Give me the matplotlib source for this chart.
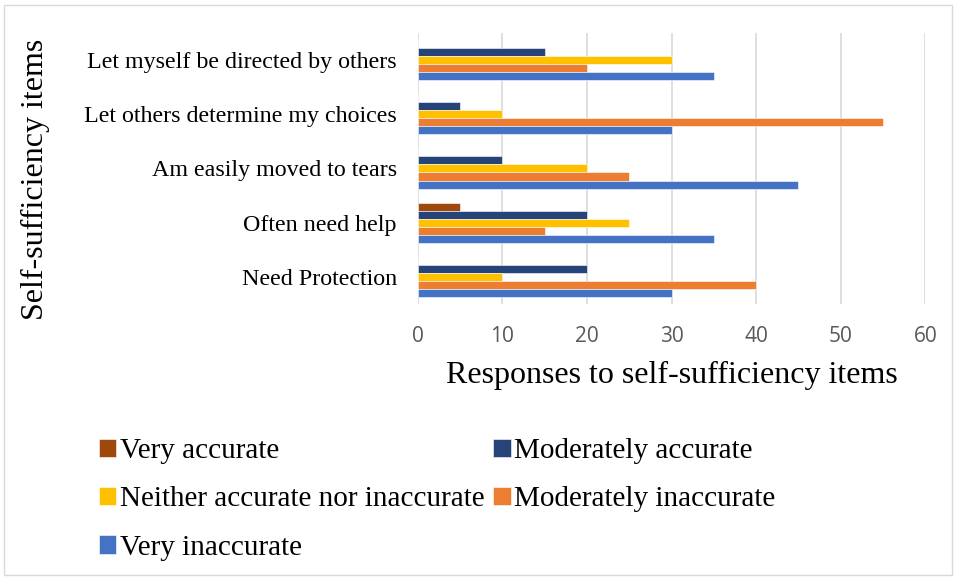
import numpy as np
import matplotlib.pyplot as plt
from matplotlib.patches import Rectangle

# categories listed bottom -> top (as drawn)
items = ["Need Protection",
         "Often need help",
         "Am easily moved to tears",
         "Let others determine my choices",
         "Let myself be directed by others"]

series = ["Very accurate", "Moderately accurate",
          "Neither accurate nor inaccurate", "Moderately inaccurate",
          "Very inaccurate"]

very_accurate         = [0, 5, 0, 0, 0]
moderately_accurate   = [20, 20, 10, 5, 15]
neither               = [10, 25, 20, 10, 30]
moderately_inaccurate = [40, 15, 25, 55, 20]
very_inaccurate       = [30, 35, 45, 30, 35]

colors = ["#9E480E", "#264478", "#FFC000", "#ED7D31", "#4472C4"]
values = [very_accurate, moderately_accurate, neither,
          moderately_inaccurate, very_inaccurate]

serif = ["Liberation Serif", "DejaVu Serif"]

fig = plt.figure(figsize=(9.56, 5.78), dpi=100)
ax = fig.add_axes([0.437, 0.474, 0.531, 0.469])

y = np.arange(len(items))
h = 0.148
bars = []
for i, (vals, c) in enumerate(zip(values, colors)):
    b = ax.barh(y + (2 - i) * h, vals, height=h, color=c,
                edgecolor="white", linewidth=0.4, label=series[i], zorder=3)
    bars.append(b)

ax.set_xlim(0, 60)
ax.set_ylim(-0.5, len(items) - 0.5)
ax.set_xticks(np.arange(0, 61, 10))
ax.set_yticks(y)
ax.set_yticklabels(items, family=serif, fontsize=17.3)
ax.tick_params(axis="x", labelsize=15, colors="#595959", length=0, pad=16)
ax.tick_params(axis="y", length=0, pad=15)
for lbl in ax.get_xticklabels():
    lbl.set_family(["Open Sans", "DejaVu Sans"])
ax.xaxis.grid(True, color="#D9D9D9", linewidth=1.2, zorder=0)
for s in ax.spines.values():
    s.set_visible(False)

ax.set_xlabel("Responses to self-sufficiency items", family=serif,
              fontsize=23, labelpad=10)
fig.text(0.037, 0.69, "Self-sufficiency items", family=serif, fontsize=23,
         rotation=90, ha="center", va="center")

# legend, row-wise order
order = [0, 2, 4, 1, 3]
leg = fig.legend([bars[k] for k in order], [series[k] for k in order],
                 ncol=2, loc="upper left", bbox_to_anchor=(0.088, 0.267),
                 frameon=False, prop={"family": serif, "size": 21},
                 handlelength=0.6, handleheight=0.6, handletextpad=0.12,
                 columnspacing=0.3, labelspacing=0.76, borderpad=0)

# outer chart border
fig.patches.append(Rectangle((0.004, 0.006), 0.992, 0.985, transform=fig.transFigure,
                             fill=False, edgecolor="#D9D9D9", linewidth=1))

fig.savefig("out.png", dpi=100)
